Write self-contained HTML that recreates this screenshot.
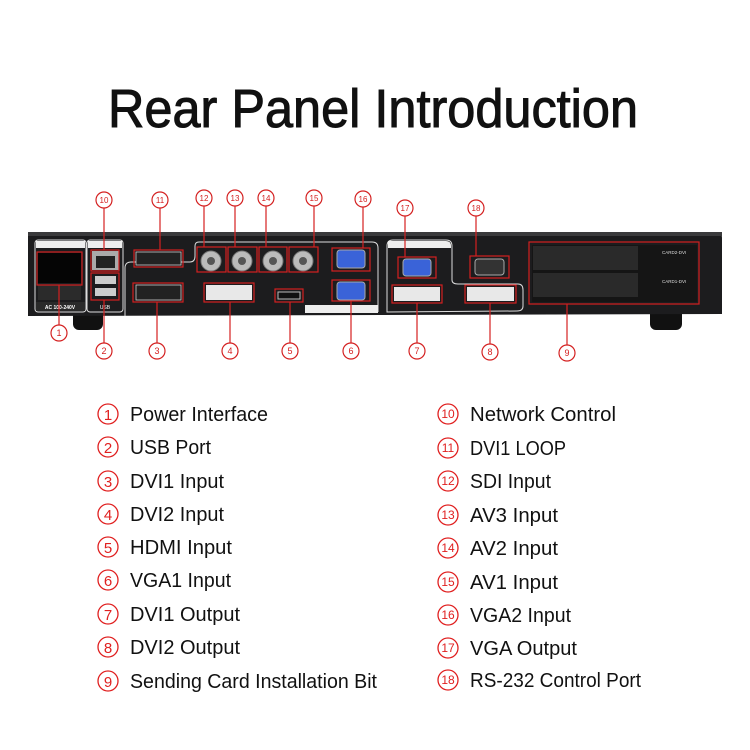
<!DOCTYPE html>
<html><head><meta charset="utf-8"><style>
html,body{margin:0;padding:0;background:#fff;}
svg{display:block;}
text{font-family:"Liberation Sans",sans-serif;}
</style></head><body>
<svg width="750" height="750" viewBox="0 0 750 750" xmlns="http://www.w3.org/2000/svg">
<rect width="750" height="750" fill="#fff"/>
<text x="373" y="127" font-size="54" text-anchor="middle" textLength="530" lengthAdjust="spacingAndGlyphs" fill="#111" stroke="#111" stroke-width="1">Rear Panel Introduction</text>

<!-- device body -->
<rect x="73" y="308" width="30" height="22" rx="6" fill="#111"/>
<rect x="650" y="308" width="32" height="22" rx="6" fill="#111"/>
<path d="M28 236 Q28 232 34 232 L716 232 Q722 232 722 238 L722 314 L28 316 Z" fill="#1c1c1e"/>
<rect x="28" y="232" width="694" height="4" fill="#3a3a3c"/>
<!-- power panel -->
<rect x="35" y="240" width="51" height="72" rx="3" fill="none" stroke="#ddd" stroke-width="1"/>
<rect x="36" y="241" width="49" height="7" fill="#eee"/>
<rect x="36" y="302" width="49" height="9" fill="#2a2a2a"/>
<text x="60" y="309" font-size="5" fill="#fff" text-anchor="middle" font-weight="bold">AC 100-240V</text>
<rect x="38" y="253" width="43" height="30" fill="#050505"/>
<rect x="38" y="285" width="43" height="15" fill="#2b2b2b"/>
<!-- net/usb panel -->
<rect x="87" y="240" width="36" height="72" rx="3" fill="none" stroke="#ddd"/>
<rect x="88" y="241" width="34" height="7" fill="#eee"/>
<rect x="92" y="251" width="27" height="19" fill="#aaa"/>
<rect x="96" y="256" width="19" height="12" fill="#222"/>
<rect x="95" y="276" width="21" height="8" fill="#ccc"/>
<rect x="95" y="288" width="21" height="8" fill="#ccc"/>
<text x="105" y="309" font-size="5" fill="#fff" text-anchor="middle">USB</text>
<!-- input panel outlines -->
<path d="M125 316 L125 268 Q125 262 131 262 L190 262 Q195 262 195 256 L195 246 Q195 242 199 242 L372 242 Q378 242 378 248 L378 312" fill="none" stroke="#ddd" stroke-width="1"/>
<rect x="305" y="305" width="73" height="8" fill="#eee"/>
<!-- output panel -->
<path d="M387 312 L387 246 Q387 240 393 240 L446 240 Q452 240 452 246 L452 280 Q452 284 458 284 L518 284 Q523 284 523 290 L523 306 Q523 311 517 311 Z" fill="none" stroke="#ddd"/>
<path d="M388 241 L446 241 Q451 241 451 246 L451 248 L388 248 Z" fill="#eee"/>
<!-- connectors -->
<g fill="#222" stroke="#ccc" stroke-width="0.8">
<rect x="136" y="252" width="45" height="13"/><rect x="136" y="285" width="45" height="15"/>
</g>
<rect x="206" y="285" width="46" height="15" fill="#e8e8e8"/>
<rect x="394" y="287" width="46" height="14" fill="#e8e8e8"/>
<rect x="467" y="287" width="47" height="14" fill="#e8e8e8"/>
<rect x="278" y="292" width="22" height="7" fill="#111" stroke="#bbb"/>
<g fill="#3a63d8" stroke="#aaa"><rect x="337" y="250" width="28" height="18" rx="3"/><rect x="337" y="282" width="28" height="18" rx="3"/><rect x="403" y="259" width="28" height="17" rx="3"/></g>
<rect x="475" y="259" width="29" height="16" rx="3" fill="#333" stroke="#aaa"/>
<g fill="#bbb" stroke="#777"><circle cx="211" cy="261" r="10"/><circle cx="242" cy="261" r="10"/><circle cx="273" cy="261" r="10"/><circle cx="303" cy="261" r="10"/></g>
<g fill="#555"><circle cx="211" cy="261" r="4"/><circle cx="242" cy="261" r="4"/><circle cx="273" cy="261" r="4"/><circle cx="303" cy="261" r="4"/></g>
<!-- card slots -->
<rect x="532" y="245" width="165" height="57" fill="#151515"/>
<rect x="533" y="246" width="105" height="24" fill="#2a2a2a"/>
<rect x="533" y="273" width="105" height="24" fill="#2a2a2a"/>
<text x="662" y="254" font-size="4.5" fill="#ddd">CARD2-DVI</text>
<text x="662" y="283" font-size="4.5" fill="#ddd">CARD1-DVI</text>

<!-- red boxes -->
<g fill="none" stroke="#d42020" stroke-width="1.2">
<rect x="37" y="252" width="45" height="33"/>
<rect x="91" y="250" width="28" height="21"/><rect x="91" y="273" width="28" height="27"/>
<rect x="134" y="250" width="49" height="17"/>
<rect x="197" y="247" width="29" height="25"/><rect x="228" y="247" width="29" height="25"/>
<rect x="259" y="247" width="28" height="25"/><rect x="289" y="247" width="29" height="25"/>
<rect x="332" y="248" width="38" height="23"/>
<rect x="133" y="283" width="50" height="19"/><rect x="204" y="283" width="50" height="19"/>
<rect x="275" y="289" width="28" height="13"/><rect x="332" y="280" width="38" height="21"/>
<rect x="398" y="257" width="38" height="21"/><rect x="470" y="256" width="39" height="22"/>
<rect x="392" y="285" width="50" height="18"/><rect x="465" y="285" width="51" height="18"/>
<rect x="529" y="242" width="170" height="62"/>
</g>
<!-- leader lines -->
<g stroke="#d42020" stroke-width="1.2">
<line x1="59" y1="285" x2="59" y2="325"/><line x1="104" y1="300" x2="104" y2="343"/>
<line x1="157" y1="302" x2="157" y2="343"/><line x1="230" y1="302" x2="230" y2="343"/>
<line x1="290" y1="302" x2="290" y2="343"/><line x1="351" y1="301" x2="351" y2="343"/>
<line x1="417" y1="303" x2="417" y2="343"/><line x1="490" y1="303" x2="490" y2="344"/>
<line x1="567" y1="304" x2="567" y2="345"/>
<line x1="104" y1="208" x2="104" y2="250"/><line x1="160" y1="208" x2="160" y2="250"/>
<line x1="204" y1="206" x2="204" y2="247"/><line x1="235" y1="206" x2="235" y2="247"/>
<line x1="266" y1="206" x2="266" y2="247"/><line x1="314" y1="206" x2="314" y2="247"/>
<line x1="363" y1="207" x2="363" y2="248"/><line x1="405" y1="216" x2="405" y2="257"/>
<line x1="476" y1="216" x2="476" y2="256"/>
</g>
<g fill="#fff" stroke="#d42020" stroke-width="1.2" >
<circle cx="59" cy="333" r="8"/><circle cx="104" cy="351" r="8"/><circle cx="157" cy="351" r="8"/>
<circle cx="230" cy="351" r="8"/><circle cx="290" cy="351" r="8"/><circle cx="351" cy="351" r="8"/>
<circle cx="417" cy="351" r="8"/><circle cx="490" cy="352" r="8"/><circle cx="567" cy="353" r="8"/>
<circle cx="104" cy="200" r="8"/><circle cx="160" cy="200" r="8"/><circle cx="204" cy="198" r="8"/>
<circle cx="235" cy="198" r="8"/><circle cx="266" cy="198" r="8"/><circle cx="314" cy="198" r="8"/>
<circle cx="363" cy="199" r="8"/><circle cx="405" cy="208" r="8"/><circle cx="476" cy="208" r="8"/>
</g>
<g fill="#d42020" font-size="9" text-anchor="middle">
<text x="59" y="336">1</text><text x="104" y="354">2</text><text x="157" y="354">3</text>
<text x="230" y="354">4</text><text x="290" y="354">5</text><text x="351" y="354">6</text>
<text x="417" y="354">7</text><text x="490" y="355">8</text><text x="567" y="356">9</text>
<text x="104" y="203" font-size="8">10</text><text x="160" y="203" font-size="8">11</text><text x="204" y="201" font-size="8">12</text>
<text x="235" y="201" font-size="8">13</text><text x="266" y="201" font-size="8">14</text><text x="314" y="201" font-size="8">15</text>
<text x="363" y="202" font-size="8">16</text><text x="405" y="211" font-size="8">17</text><text x="476" y="211" font-size="8">18</text>
</g>

<!-- legend -->
<g fill="none" stroke="#e02020" stroke-width="1.3">
<circle cx="108" cy="414" r="10"/><circle cx="108" cy="447" r="10"/><circle cx="108" cy="481" r="10"/>
<circle cx="108" cy="514" r="10"/><circle cx="108" cy="547" r="10"/><circle cx="108" cy="580" r="10"/>
<circle cx="108" cy="614" r="10"/><circle cx="108" cy="647" r="10"/><circle cx="108" cy="681" r="10"/>
<circle cx="448" cy="414" r="10"/><circle cx="448" cy="448" r="10"/><circle cx="448" cy="481" r="10"/>
<circle cx="448" cy="515" r="10"/><circle cx="448" cy="548" r="10"/><circle cx="448" cy="582" r="10"/>
<circle cx="448" cy="615" r="10"/><circle cx="448" cy="648" r="10"/><circle cx="448" cy="680" r="10"/>
</g>
<g fill="#e02020" font-size="15" text-anchor="middle">
<text x="108" y="420">1</text><text x="108" y="453">2</text><text x="108" y="487">3</text>
<text x="108" y="520">4</text><text x="108" y="553">5</text><text x="108" y="586">6</text>
<text x="108" y="620">7</text><text x="108" y="653">8</text><text x="108" y="687">9</text>
<g font-size="12"><text x="448" y="418">10</text><text x="448" y="452">11</text><text x="448" y="485">12</text>
<text x="448" y="519">13</text><text x="448" y="552">14</text><text x="448" y="586">15</text>
<text x="448" y="619">16</text><text x="448" y="652">17</text><text x="448" y="684">18</text></g>
</g>
<g fill="#111" font-size="20">
<text x="130" y="421" textLength="138" lengthAdjust="spacingAndGlyphs">Power Interface</text><text x="130" y="454" textLength="81" lengthAdjust="spacingAndGlyphs">USB  Port</text>
<text x="130" y="488" textLength="94" lengthAdjust="spacingAndGlyphs">DVI1 Input</text><text x="130" y="521" textLength="94" lengthAdjust="spacingAndGlyphs">DVI2 Input</text>
<text x="130" y="554" textLength="102" lengthAdjust="spacingAndGlyphs">HDMI Input</text><text x="130" y="587" textLength="101" lengthAdjust="spacingAndGlyphs">VGA1 Input</text>
<text x="130" y="621" textLength="110" lengthAdjust="spacingAndGlyphs">DVI1 Output</text><text x="130" y="654" textLength="110" lengthAdjust="spacingAndGlyphs">DVI2 Output</text>
<text x="130" y="688" textLength="247" lengthAdjust="spacingAndGlyphs">Sending Card Installation Bit</text>
<text x="470" y="421" textLength="146" lengthAdjust="spacingAndGlyphs">Network Control</text><text x="470" y="455" textLength="96" lengthAdjust="spacingAndGlyphs">DVI1 LOOP</text>
<text x="470" y="488" textLength="81" lengthAdjust="spacingAndGlyphs">SDI Input</text><text x="470" y="522" textLength="88" lengthAdjust="spacingAndGlyphs">AV3 Input</text>
<text x="470" y="555" textLength="88" lengthAdjust="spacingAndGlyphs">AV2 Input</text><text x="470" y="589" textLength="88" lengthAdjust="spacingAndGlyphs">AV1 Input</text>
<text x="470" y="622" textLength="101" lengthAdjust="spacingAndGlyphs">VGA2 Input</text><text x="470" y="655" textLength="107" lengthAdjust="spacingAndGlyphs">VGA Output</text>
<text x="470" y="687" textLength="171" lengthAdjust="spacingAndGlyphs">RS-232 Control Port</text>
</g>
</svg>
</body></html>
